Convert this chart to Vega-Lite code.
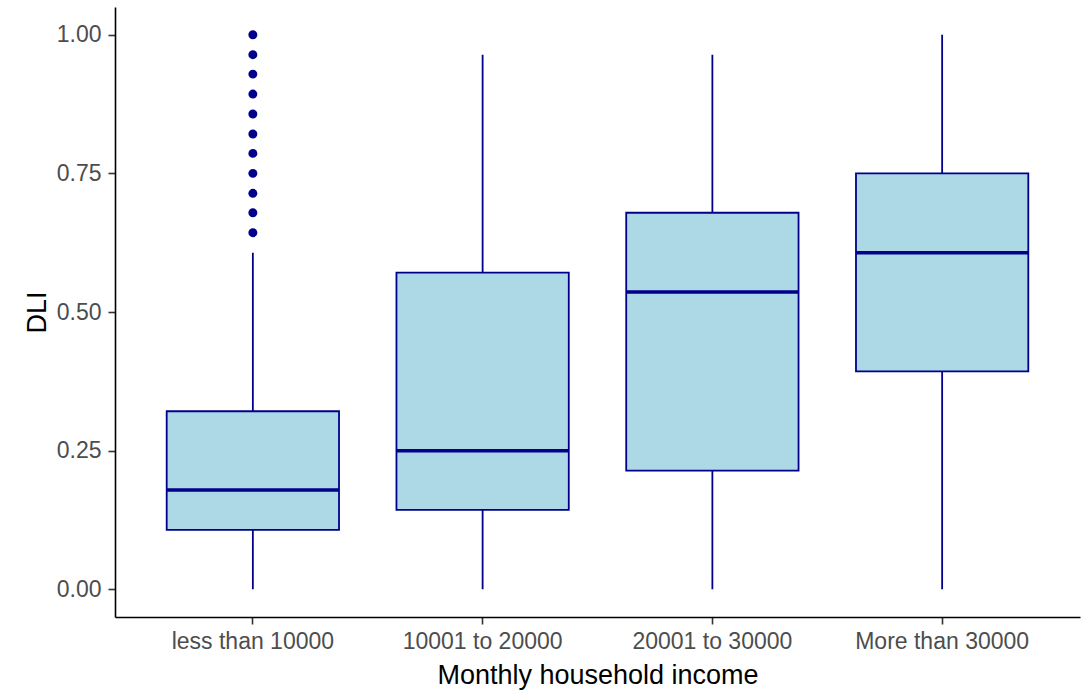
{
  "$schema": "https://vega.github.io/schema/vega-lite/v6.json",
  "autosize": {"type": "none"},
  "padding": {"left": 115, "top": 7, "right": 9, "bottom": 74},
  "width": 965,
  "height": 610,
  "background": "white",
  "datasets": {
    "boxes": [
      {"income": "less than 10000", "lower": 0, "q1": 0.107, "median": 0.179, "q3": 0.321, "upper": 0.607},
      {"income": "10001 to 20000", "lower": 0, "q1": 0.143, "median": 0.25, "q3": 0.571, "upper": 0.964},
      {"income": "20001 to 30000", "lower": 0, "q1": 0.214, "median": 0.536, "q3": 0.679, "upper": 0.964},
      {"income": "More than 30000", "lower": 0, "q1": 0.393, "median": 0.607, "q3": 0.75, "upper": 1.0}
    ],
    "outliers": [
      {"income": "less than 10000", "DLI": 0.643},
      {"income": "less than 10000", "DLI": 0.679},
      {"income": "less than 10000", "DLI": 0.714},
      {"income": "less than 10000", "DLI": 0.75},
      {"income": "less than 10000", "DLI": 0.786},
      {"income": "less than 10000", "DLI": 0.821},
      {"income": "less than 10000", "DLI": 0.857},
      {"income": "less than 10000", "DLI": 0.893},
      {"income": "less than 10000", "DLI": 0.929},
      {"income": "less than 10000", "DLI": 0.964},
      {"income": "less than 10000", "DLI": 1.0}
    ]
  },
  "encoding": {
    "x": {
      "field": "income",
      "type": "nominal",
      "scale": {
        "domain": ["less than 10000", "10001 to 20000", "20001 to 30000", "More than 30000"],
        "paddingInner": 0.25,
        "paddingOuter": 0.225
      },
      "axis": {
        "title": "Monthly household income",
        "labelAngle": 0,
        "labelPadding": 6,
        "titleY": 66,
        "titleBaseline": "alphabetic"
      }
    }
  },
  "layer": [
    {
      "data": {"name": "boxes"},
      "mark": {"type": "rule", "color": "#00008B", "strokeWidth": 1.8},
      "encoding": {
        "y": {
          "field": "lower",
          "type": "quantitative",
          "scale": {"domain": [-0.05, 1.05], "nice": false, "zero": false},
          "axis": {
            "title": "DLI",
            "values": [0, 0.25, 0.5, 0.75, 1.0],
            "format": ".2f",
            "labelPadding": 7,
            "titleX": -70,
            "titleBaseline": "alphabetic"
          }
        },
        "y2": {"field": "upper"}
      }
    },
    {
      "data": {"name": "boxes"},
      "mark": {"type": "bar", "fill": "#ADD8E6", "stroke": "#00008B", "strokeWidth": 1.8},
      "encoding": {
        "y": {"field": "q1", "type": "quantitative"},
        "y2": {"field": "q3"}
      }
    },
    {
      "data": {"name": "boxes"},
      "mark": {"type": "tick", "color": "#00008B", "thickness": 3.5, "size": 172, "opacity": 1},
      "encoding": {
        "y": {"field": "median", "type": "quantitative"}
      }
    },
    {
      "data": {"name": "outliers"},
      "mark": {"type": "point", "shape": "circle", "filled": true, "color": "#00008B", "size": 80, "opacity": 1},
      "encoding": {
        "y": {"field": "DLI", "type": "quantitative"}
      }
    }
  ],
  "config": {
    "view": {"stroke": null},
    "font": "Liberation Sans",
    "axis": {
      "grid": false,
      "domainColor": "#000000",
      "domainWidth": 1.6,
      "tickColor": "#333333",
      "tickWidth": 1.6,
      "tickSize": 7,
      "labelFont": "Liberation Sans",
      "labelFontSize": 23,
      "labelColor": "#4D4D4D",
      "titleFont": "Liberation Sans",
      "titleFontSize": 27,
      "titleFontWeight": "normal",
      "titleColor": "#000000"
    }
  }
}
